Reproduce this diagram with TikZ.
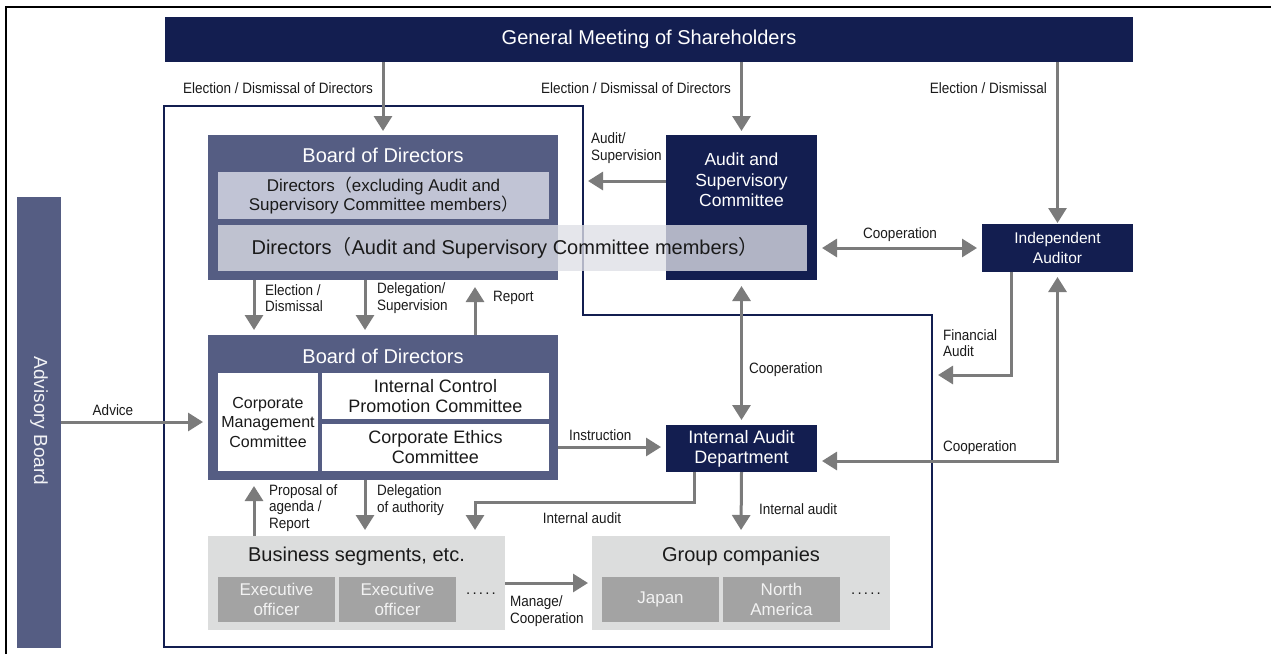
\documentclass[tikz,border=0pt]{standalone}
\usepackage{fontspec}
\setmainfont{Liberation Sans}
\newfontfamily\cjk{Noto Sans CJK JP}
\newfontfamily\narrowfont{Liberation Sans}[FakeStretch=0.9]
\usetikzlibrary{arrows.meta,calc}

\definecolor{navy}{HTML}{131E50}
\definecolor{slate}{HTML}{555D83}
\definecolor{dirfill}{HTML}{C1C4D5}
\definecolor{veil}{HTML}{DEDFE6}
\definecolor{arrowgray}{HTML}{7B7B7B}
\definecolor{lightgray}{HTML}{DCDDDD}
\definecolor{midgray}{HTML}{A3A3A3}
\definecolor{labelcol}{HTML}{1A1A1A}

\newcommand{\fsz}[2]{\fontsize{#1}{#2}\selectfont}
\newcommand{\fwl}{{\cjk （}}
\newcommand{\fwr}{{\cjk ）}}
\newcommand{\moredots}{.\kern2.2pt.\kern2.2pt.\kern2.2pt.\kern2.2pt.}

\tikzset{
  box/.style={rectangle, inner sep=0pt, outer sep=0pt, draw=none, align=center},
  navybox/.style={box, fill=navy, text=white},
  slatebox/.style={box, fill=slate, text=white},
  whitebox/.style={box, fill=white, text=labelcol},
  greybox/.style={box, fill=lightgray, text=labelcol},
  officerbox/.style={box, fill=midgray, text=white!95!black},
  title/.style={inner sep=0pt, text=white, font=\fsz{20}{24}},
  lbl/.style={inner sep=0pt, align=left, text=labelcol, font=\narrowfont\fsz{15}{16.5}},
  arr/.style={draw=arrowgray, line width=3pt, -{Triangle[length=15pt,width=18pt]}},
  darr/.style={draw=arrowgray, line width=3pt, {Triangle[length=15pt,width=18pt]}-{Triangle[length=15pt,width=18pt]}}
}

\begin{document}
\begin{tikzpicture}[x=1pt,y=-1pt]
\useasboundingbox (0,0) rectangle (1271,654);

% page frame (top and left rules)
\draw[line width=2pt, black] (6,654) -- (6,7) -- (1271,7);

% company boundary
\draw[navy, line width=1.5pt] (164,106) -- (583,106) -- (583,315) -- (932,315) -- (932,647) -- (164,647) -- cycle;

% shareholders
\node[navybox, minimum width=968pt, minimum height=45pt, font=\fsz{20}{24}] (gm) at (649,39.5) {General Meeting of Shareholders};

% advisory board
\node[slatebox, minimum width=44pt, minimum height=451pt] (adv) at (39,422.5) {};
\node[rotate=-90, text=white!92!slate, font=\fsz{19}{22}, inner sep=0pt] (advtext) at (39,421) {Advisory Board};

% upper board of directors
\node[slatebox, minimum width=350pt, minimum height=145pt] (bod1) at (383,207.5) {};
\node[title] (bod1title) at (383,155) {Board of Directors};
\node[box, fill=dirfill, text=labelcol, minimum width=331pt, minimum height=47pt, font=\fsz{17}{19.5}] (dir1) at (383.5,195.5)
  {Directors\fwl excluding Audit and\\Supervisory Committee members\fwr};

% audit and supervisory committee
\node[navybox, minimum width=151pt, minimum height=145pt] (asc) at (741.5,207.5) {};
\node[inner sep=0pt, text=white, align=center, font=\fsz{17.5}{20.5}] (asctext) at (741.5,180) {Audit and\\Supervisory\\Committee};

% directors who sit on the audit committee (translucent band)
\node[box, fill=veil, fill opacity=0.78, text opacity=1, text=labelcol, minimum width=589pt, minimum height=46pt] (dir2) at (512.5,248) {};
\node[inner sep=0pt, text=labelcol, font=\fsz{20}{24}] (dir2text) at (505,248) {Directors\fwl Audit and Supervisory Committee members\fwr};

% independent auditor
\node[navybox, minimum width=151pt, minimum height=48pt, font=\fsz{15.5}{20}] (ia) at (1057.5,248) {Independent\\Auditor};

% lower board of directors
\node[slatebox, minimum width=350pt, minimum height=145pt] (bod2) at (383,407.5) {};
\node[title] (bod2title) at (383,356) {Board of Directors};
\node[whitebox, minimum width=100pt, minimum height=98pt, font=\fsz{16}{19.5}] (cmc) at (268,422) {Corporate\\Management\\Committee};
\node[whitebox, minimum width=227pt, minimum height=46pt, font=\fsz{18}{20}] (icp) at (435.5,396) {Internal Control\\Promotion Committee};
\node[whitebox, minimum width=227pt, minimum height=47pt, font=\fsz{18}{20}] (ceth) at (435.5,447.5) {Corporate Ethics\\Committee};

% internal audit department
\node[navybox, minimum width=151pt, minimum height=47pt, font=\fsz{18}{20}] (iad) at (741.5,448.5) {Internal Audit\\Department};

% business segments
\node[greybox, minimum width=297pt, minimum height=94pt] (bus) at (356.5,583) {};
\node[inner sep=0pt, text=labelcol, font=\fsz{20}{24}] (bustitle) at (356.5,556) {Business segments, etc.};
\node[officerbox, minimum width=117pt, minimum height=45pt, font=\fsz{17}{20}] (ex1) at (276.5,599.5) {Executive\\officer};
\node[officerbox, minimum width=117pt, minimum height=45pt, font=\fsz{17}{20}] (ex2) at (397.5,599.5) {Executive\\officer};
\node[inner sep=0pt, text=labelcol, font=\fsz{15}{16}] (busdots) at (481,594) {\moredots};

% group companies
\node[greybox, minimum width=298pt, minimum height=94pt] (grp) at (741,583) {};
\node[inner sep=0pt, text=labelcol, font=\fsz{20}{24}] (grptitle) at (741,556) {Group companies};
\node[officerbox, minimum width=117pt, minimum height=45pt, font=\fsz{17}{20}] (jp) at (660.5,599.5) {Japan};
\node[officerbox, minimum width=117pt, minimum height=45pt, font=\fsz{17}{20}] (na) at (781.5,599.5) {North\\America};
\node[inner sep=0pt, text=labelcol, font=\fsz{15}{16}] (grpdots) at (866,594) {\moredots};

% ---- connectors ----
\draw[arr, shorten >=4pt] (gm.south -| bod1.north) -- (bod1.north);
\draw[arr, shorten >=4pt] (gm.south -| asc.north) -- (asc.north);
\draw[arr, shorten >=1pt] (gm.south -| ia.north) -- (ia.north);

\draw[arr, shorten >=30pt] (asc.west |- 0,181) -- (bod1.east |- 0,181);
\draw[darr, shorten <=5pt, shorten >=5pt] (asc.east |- ia.west) -- (ia.west);

\draw[arr, shorten >=5pt] (bod1.south -| 254,0) -- (bod2.north -| 254,0);
\draw[arr, shorten >=5pt] (bod1.south -| 365,0) -- (bod2.north -| 365,0);
\draw[arr, shorten >=7pt] (bod2.north -| 475,0) -- (bod1.south -| 475,0);

\draw[darr, shorten <=6pt, shorten >=5pt] (asc.south) -- (iad.north);
\draw[arr, shorten >=5pt] (adv.east |- 0,422) -- (bod2.west |- 0,422);
\draw[arr, shorten >=5pt] (bod2.east |- 0,447) -- (iad.west |- 0,447);

\coordinate (finTip) at (938,375);
\draw[arr] (ia.south -| 1011,0) |- (finTip);
\draw[darr, shorten <=5pt, shorten >=5pt] (ia.south) |- (iad.east |- 0,461);

\draw[arr, shorten >=6pt] (iad.south -| 694,0) |- (475,502) -- (bus.north -| 475,0);
\draw[arr, shorten >=6pt] (bus.north -| 254,0) -- (bod2.south -| 254,0);
\draw[arr, shorten >=6pt] (bod2.south -| 365,0) -- (bus.north -| 365,0);
\draw[arr, shorten >=6pt] (iad.south) -- (grp.north);
\draw[arr, shorten >=4pt] (bus.east |- 0,583) -- (grp.west |- 0,583);

% ---- connector labels ----
\node[lbl, anchor=east] (l1) at (373,88) {Election / Dismissal of Directors};
\node[lbl, anchor=east] (l2) at (731,88) {Election / Dismissal of Directors};
\node[lbl, anchor=east] (l3) at (1047,88) {Election / Dismissal};
\node[lbl, anchor=west] (l4) at (591,148) {Audit/\\Supervision};
\node[lbl] (l5) at (900,235) {Cooperation};
\node[lbl, anchor=west] (l6) at (265,298) {Election /\\Dismissal};
\node[lbl, anchor=west] (l7) at (377,298) {Delegation/\\Supervision};
\node[lbl, anchor=west] (l8) at (493,298) {Report};
\node[lbl, anchor=west] (l9) at (749,370) {Cooperation};
\node[lbl, anchor=west] (l10) at (943,343) {Financial\\Audit};
\node[lbl, anchor=west] (l11) at (943,448) {Cooperation};
\node[lbl, anchor=west] (l12) at (569,435) {Instruction};
\node[lbl] (l13) at (113,410) {Advice};
\node[lbl, anchor=west] (l14) at (269,508) {Proposal of\\agenda /\\Report};
\node[lbl, anchor=west] (l15) at (377,500) {Delegation\\of authority};
\node[lbl] (l16) at (582,518) {Internal audit};
\node[lbl, anchor=west] (l17) at (759,509) {Internal audit};
\node[lbl, anchor=west] (l18) at (510,611) {Manage/\\Cooperation};
\end{tikzpicture}
\end{document}
